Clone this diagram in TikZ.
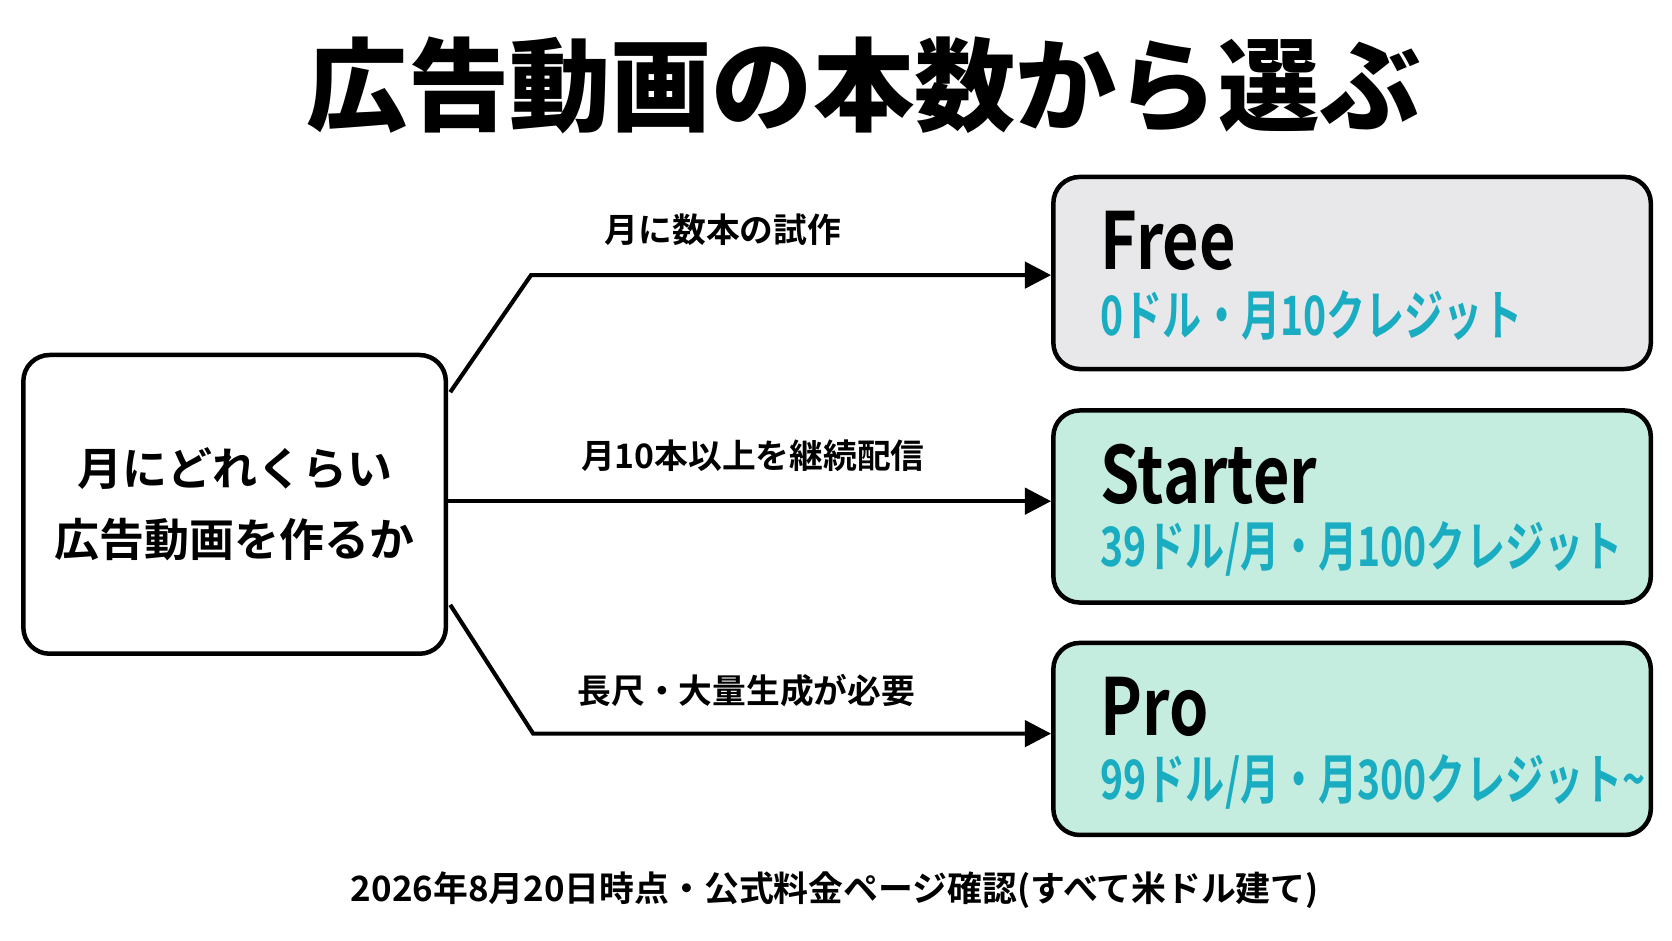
\documentclass[tikz,border=0pt]{standalone}
\usepackage{fontspec}
\setmainfont{Noto Sans CJK JP}
\newfontfamily\cjkbold{Noto Sans CJK JP Bold}
\newfontfamily\cjkblack{Noto Sans CJK JP Black}
\newfontfamily\cjkcond[FakeStretch=0.8]{Noto Sans CJK JP Bold}
\newfontfamily\cjknarrow[FakeStretch=0.72]{Noto Sans CJK JP Bold}
\usetikzlibrary{arrows.meta, positioning, calc}
\definecolor{plangray}{RGB}{232, 232, 234}
\definecolor{planmint}{RGB}{196, 237, 224}
\definecolor{priceteal}{RGB}{26, 172, 192}
\tikzset{
  plan/.style={draw=black, line width=1.2pt, rounded corners=7pt, minimum width=5.6cm, minimum height=1.8cm},
  flow/.style={line width=1.1pt, -{Triangle[length=7pt, width=7pt]}},
  cond/.style={font=\cjkbold\fontsize{9}{11}\selectfont, anchor=south}
}
\begin{document}
\begin{tikzpicture}[x=0.01cm, y=-0.01cm]
  \useasboundingbox (0, 0) rectangle (1568, 882);

  % Title
  \node[font=\cjkblack\fontsize{27}{32}\selectfont] (title) at (810, 80) {広告動画の本数から選ぶ};

  % Question
  \node[draw=black, line width=1.2pt, rounded corners=7pt, minimum width=3.96cm, minimum height=2.8cm, align=center,
        font=\cjkbold\fontsize{12}{19}\selectfont] (ask) at (220, 473) {月にどれくらい\\広告動画を作るか};

  % Plans
  \node[plan, fill=plangray] (free) at (1268, 256) {};
  \node[plan, fill=planmint] (starter) at (1268, 475) {};
  \node[plan, fill=planmint] (pro) at (1268, 693) {};

  \foreach \p/\name/\price in {free/Free/{0ドル・月10クレジット}, starter/Starter/{39ドル/月・月100クレジット}, pro/Pro/{99ドル/月・月300クレジット\textasciitilde}}{
    \node[anchor=west, font=\cjkcond\fontsize{21}{24}\selectfont] (\p-name) at ($(\p.west)+(34,-30)$) {\name};
    \node[anchor=west, text=priceteal, font=\cjknarrow\fontsize{14.5}{18}\selectfont] (\p-price) at ($(\p.west)+(34,40)$) {\price};
  }

  % Branches
  \coordinate (up) at (498, 258);
  \coordinate (down) at (500, 688);
  \draw[flow] ($(ask.north east)+(2,37)$) -- (up) -- (free.west |- up);
  \draw[flow] (ask.east |- 0, 470) -- (starter.west |- 0, 470);
  \draw[flow] ($(ask.south east)+(2,-48)$) -- (down) -- (pro.west |- down);
  \node[cond] (c1) at (678, 243) {月に数本の試作};
  \node[cond] (c2) at (706, 455) {月10本以上を継続配信};
  \node[cond] (c3) at (700, 675) {長尺・大量生成が必要};

  % Footer
  \node[font=\cjkbold\fontsize{9.3}{11}\selectfont] (note) at (783, 835) {2026年8月20日時点・公式料金ページ確認(すべて米ドル建て)};
\end{tikzpicture}
\end{document}
